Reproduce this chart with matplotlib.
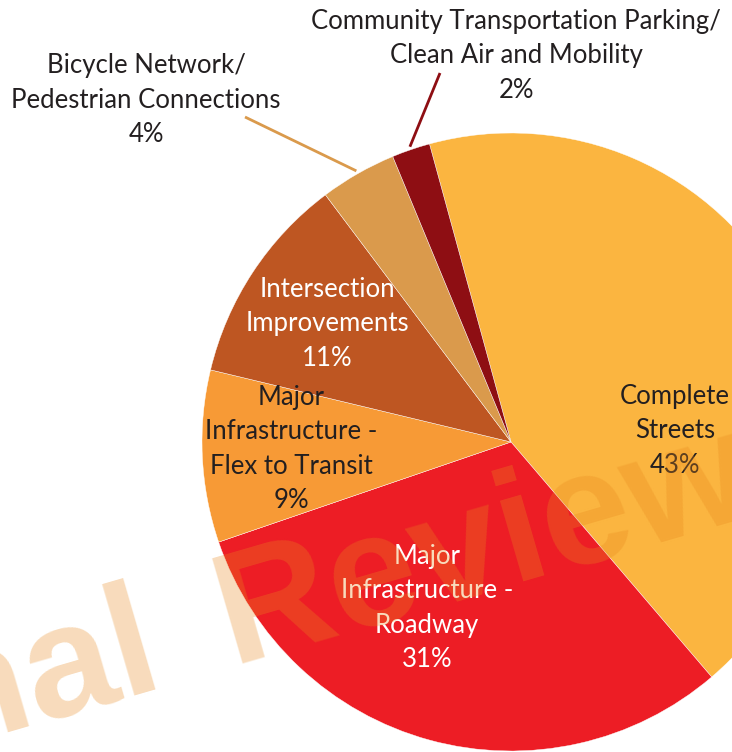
import numpy as np
import matplotlib
matplotlib.use("Agg")
import matplotlib.pyplot as plt

# ---- data ----
categories = [
    "Complete\nStreets",
    "Major\nInfrastructure -\nRoadway",
    "Major\nInfrastructure -\nFlex to Transit",
    "Intersection\nImprovements",
    "Bicycle Network/\nPedestrian Connections",
    "Community Transportation Parking/\nClean Air and Mobility",
]
shares = [43, 31, 9, 11, 4, 2]
pct_labels = ["43%", "31%", "9%", "11%", "4%", "2%"]
colors = ["#FBB540", "#ED1D25", "#F79A36", "#BE5622", "#DA9A4C", "#8E0E13"]
text_colors = ["#231F20", "white", "#231F20", "white", "#231F20", "#231F20"]

# ---- layout (pixel coords, y from top) ----
W, H = 732, 752
label_pos = [(675, 431), (427, 608), (291, 449), (327, 324), (146, 100), (516, 56)]
leader_end = {4: (245, 117), 5: (440, 73)}
leader_colors = {4: "#DA9A4C", 5: "#8E0E13"}

FONT = "Lato"

fig = plt.figure(figsize=(W / 100, H / 100), dpi=100)
ax = fig.add_axes([0, 0, 1, 1])
cx, cy, R = 511, H - 442, 309
wedges, _ = ax.pie(shares, colors=colors, startangle=105.3, counterclock=False,
                   center=(cx, cy), radius=R,
                   wedgeprops=dict(edgecolor="white", linewidth=0.3))
ax.set_xlim(0, W)
ax.set_ylim(0, H)
ax.set_aspect("equal")
ax.axis("off")

for i, w in enumerate(wedges):
    px, py = label_pos[i]
    ax.text(px, H - py, categories[i] + "\n" + pct_labels[i], ha="center", va="center",
            multialignment="center", fontsize=18.5, family=FONT, color=text_colors[i],
            linespacing=1.48, zorder=5)
    if i in leader_end:
        ang = np.deg2rad((w.theta1 + w.theta2) / 2)
        x0, y0 = cx + 1.01 * R * np.cos(ang), cy + 1.01 * R * np.sin(ang)
        ex, ey = leader_end[i]
        ax.plot([x0, ex], [y0, H - ey], color=leader_colors[i], lw=2, zorder=4,
                solid_capstyle="butt")

# watermark
wm = dict(rotation=16.2, rotation_mode="anchor", va="baseline", fontsize=115,
          family="Liberation Sans", weight="bold", color="#E8891E", alpha=0.3, zorder=10)
ax.text(167, H - 683, "Final", ha="right", **wm)
ax.text(232, H - 664, "Review", ha="left", **wm)

fig.savefig("out.png", dpi=100)
